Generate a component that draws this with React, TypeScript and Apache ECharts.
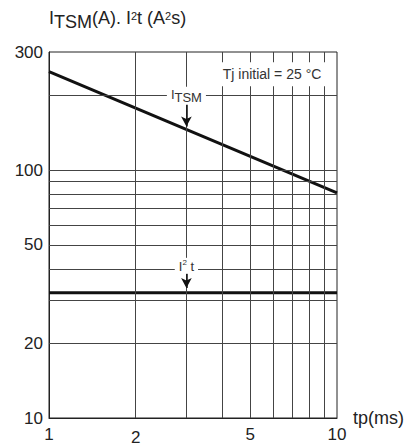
import React, { useEffect, useRef } from 'react';
import * as echarts from 'echarts';

// Data
const itsmTp = [1, 10];
const itsmValues = [250, 81];
const i2tTp = [1, 10];
const i2tValues = [32, 32];

// Grid / ticks
const xGridValues = [2, 3, 4, 5, 6, 7, 8, 9];
const yGridValues = [20, 30, 40, 50, 60, 70, 80, 90, 100, 200];
const xTickLabels = [1, 2, 5, 10];
const yTickLabels = [10, 20, 50, 100, 300];

const FONT = '"Liberation Sans", Arial, Helvetica, sans-serif';
const TXT = '#222';

export default function App() {
  const ref = useRef<HTMLDivElement>(null);
  useEffect(() => {
    const chart = echarts.init(ref.current!, null, { renderer: 'svg' });
    const gridLines = [
      ...xGridValues.map((v) => ({ xAxis: v })),
      ...yGridValues.map((v) => ({ yAxis: v })),
    ];
    chart.setOption({
      animation: false,
      textStyle: { fontFamily: FONT },
      grid: {
        left: 49, right: 70, top: 52, bottom: 28,
        containLabel: false,
        outerBoundsMode: 'none',
        show: true, borderColor: '#222', borderWidth: 1,
      },
      graphic: [
        {
          type: 'text',
          left: 49,
          top: 9,
          style: {
            text: '{n|I}{s|TSM}{n|(A). I}{p|2}{n|t (A}{p|2}{n|s)}',
            fontFamily: FONT,
            rich: {
              n: { fontSize: 18, fontFamily: FONT, fill: TXT, color: TXT, verticalAlign: 'bottom', padding: [0, 0, 4, 0] },
              s: { fontSize: 18, fontFamily: FONT, fill: TXT, color: TXT, verticalAlign: 'bottom', padding: [0, 0, 0, 0] },
              p: { fontSize: 11, fontFamily: FONT, fill: TXT, color: TXT, verticalAlign: 'bottom', padding: [0, 0, 10, 0] },
            },
          },
        },
      ],
      xAxis: {
        type: 'log', logBase: 10, min: 1, max: 10,
        name: 'tp(ms)', nameLocation: 'end', nameGap: 16,
        nameTextStyle: { fontSize: 18, color: TXT, fontFamily: FONT, verticalAlign: 'middle' },
        axisLine: { show: true, lineStyle: { color: '#222', width: 1 } },
        axisTick: { show: false },
        splitLine: { show: false },
        minorTick: { show: false },
        minorSplitLine: { show: false },
        axisLabel: {
          customValues: xTickLabels,
          fontSize: 17, color: TXT, fontFamily: FONT, margin: 8,
          formatter: (v: number) => {
            const r = Math.round(v);
            return r === 2 ? '{lo|2}' : '{n|' + r + '}';
          },
          rich: {
            n: { fontSize: 17, color: TXT, fontFamily: FONT },
            lo: { fontSize: 17, color: TXT, fontFamily: FONT, padding: [3, 0, 0, 0] },
          },
        },
      },
      yAxis: {
        type: 'log', logBase: 10, min: 10, max: 300,
        axisLine: { show: true, lineStyle: { color: '#222', width: 1 } },
        axisTick: { show: false },
        splitLine: { show: false },
        minorTick: { show: false },
        minorSplitLine: { show: false },
        axisLabel: {
          customValues: yTickLabels,
          fontSize: 17, color: TXT, fontFamily: FONT, margin: 6,
          formatter: (v: number) => String(Math.round(v)),
        },
      },
      series: [
        {
          name: 'grid',
          type: 'line',
          data: [[1, 10], [10, 10]],
          symbol: 'none',
          lineStyle: { opacity: 0 },
          silent: true,
          z: 1,
          markLine: {
            silent: true,
            symbol: ['none', 'none'],
            label: { show: false },
            lineStyle: { color: '#444', width: 1, type: 'solid' },
            data: gridLines,
          },
        },
        {
          name: 'ITSM',
          type: 'line',
          data: itsmTp.map((t, i) => [t, itsmValues[i]]),
          symbol: 'none',
          lineStyle: { color: '#111', width: 3 },
          z: 3,
          markPoint: {
            silent: true,
            symbol: 'rect',
            symbolSize: 0,
            data: [
              {
                coord: [3, 200],
                label: {
                  show: true, position: 'inside',
                  formatter: '{b|I}{s|TSM}',
                  backgroundColor: '#fff',
                  padding: [1, 4, 1, 4],
                  rich: {
                    b: { fontSize: 13, color: '#333', fontFamily: FONT, verticalAlign: 'bottom', padding: [0, 0, 3, 0] },
                    s: { fontSize: 13, color: '#333', fontFamily: FONT, verticalAlign: 'bottom' },
                  },
                },
              },
              {
                coord: [5.95, 244],
                label: {
                  show: true, position: 'inside',
                  formatter: 'Tj initial = 25 °C',
                  fontSize: 14, color: '#333', fontFamily: FONT,
                  backgroundColor: '#fff',
                  padding: [5, 7, 5, 7],
                },
              },
            ],
          },
          markLine: {
            silent: true,
            symbol: ['none', 'arrow'],
            symbolSize: [8, 10],
            label: { show: false },
            lineStyle: { color: '#111', width: 1.5, type: 'solid' },
            data: [[{ coord: [3, 187] }, { coord: [3, 150] }]],
          },
        },
        {
          name: 'I2t',
          type: 'line',
          data: i2tTp.map((t, i) => [t, i2tValues[i]]),
          symbol: 'none',
          lineStyle: { color: '#111', width: 3 },
          z: 3,
          markPoint: {
            silent: true,
            symbol: 'rect',
            symbolSize: 0,
            data: [
              {
                coord: [3, 40],
                label: {
                  show: true, position: 'inside',
                  offset: [0, -3],
                  formatter: '{b|I}{p|2}{b| t}',
                  backgroundColor: '#fff',
                  padding: [1, 4, 1, 4],
                  rich: {
                    b: { fontSize: 13, color: '#333', fontFamily: FONT, verticalAlign: 'bottom' },
                    p: { fontSize: 8, color: '#333', fontFamily: FONT, verticalAlign: 'bottom', padding: [0, 0, 6, 0] },
                  },
                },
              },
            ],
          },
          markLine: {
            silent: true,
            symbol: ['none', 'arrow'],
            symbolSize: [8, 10],
            label: { show: false },
            lineStyle: { color: '#111', width: 1.5, type: 'solid' },
            data: [[{ coord: [3, 38.5] }, { coord: [3, 33.5] }]],
          },
        },
      ],
    });
    return () => chart.dispose();
  }, []);
  return <div ref={ref} style={{ position: 'absolute', left: 0, top: 0, width: 407, height: 446 }} />;
}
